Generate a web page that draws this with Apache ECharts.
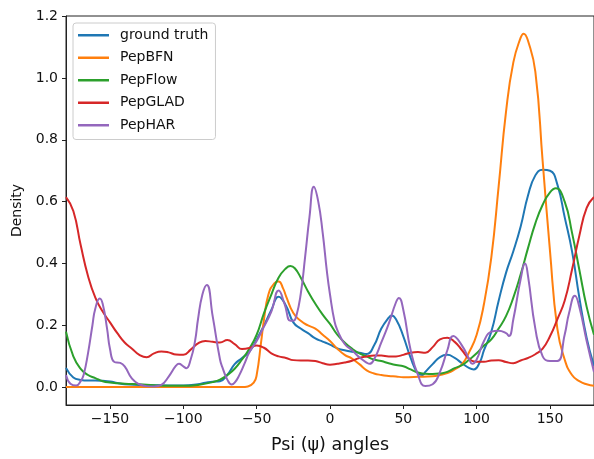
<!DOCTYPE html>
<html><head><meta charset="utf-8">
<script src="https://cdn.jsdelivr.net/npm/echarts@6/dist/echarts.min.js"></script>
<style>html,body{margin:0;padding:0;background:#fff}#c{width:594px;height:459px}</style>
</head><body><div id="c"></div>
<script>
const seriesNames = ['ground truth','PepBFN','PepFlow','PepGLAD','PepHAR'];
const colors = ['#1f77b4','#ff7f0e','#2ca02c','#d62728','#9467bd'];
const xTicks = [-150,-100,-50,0,50,100,150];
const yTicks = [0,0.2,0.4,0.6,0.8,1.0,1.2];

const groundTruth = [[-180,0.063],[-175,0.032],[-170,0.024],[-165,0.022],[-160,0.022],[-155,0.021],[-150,0.019],[-145,0.014],[-140,0.01],[-130,0.008],[-120,0.007],[-110,0.006],[-100,0.006],[-90,0.01],[-85,0.015],[-80,0.018],[-75,0.02],[-70,0.04],[-65,0.075],[-60,0.095],[-55,0.115],[-50,0.155],[-45,0.2],[-40,0.25],[-35,0.293],[-30,0.264],[-25,0.21],[-20,0.19],[-15,0.175],[-10,0.158],[-5,0.148],[0,0.138],[5,0.126],[10,0.12],[15,0.115],[20,0.112],[25,0.108],[30,0.135],[35,0.19],[40,0.225],[42,0.232],[45,0.22],[50,0.165],[55,0.095],[60,0.045],[63,0.04],[65,0.05],[70,0.075],[75,0.098],[80,0.105],[85,0.095],[90,0.078],[95,0.062],[98,0.058],[102,0.08],[105,0.12],[110,0.18],[115,0.28],[120,0.37],[125,0.44],[130,0.52],[135,0.62],[140,0.685],[145,0.703],[150,0.7],[155,0.656],[160,0.55],[165,0.44],[170,0.29],[175,0.16],[180,0.07]];
const pepBFN = [[-180,0.001],[-150,0.001],[-100,0.001],[-60,0.001],[-56,0.003],[-52,0.015],[-50,0.04],[-47,0.145],[-45,0.22],[-42,0.3],[-38,0.336],[-35,0.342],[-32,0.32],[-30,0.295],[-25,0.24],[-20,0.215],[-15,0.2],[-10,0.19],[-5,0.17],[0,0.15],[5,0.125],[10,0.105],[15,0.093],[20,0.075],[25,0.055],[30,0.045],[35,0.04],[40,0.037],[45,0.035],[50,0.033],[60,0.034],[70,0.036],[75,0.04],[80,0.046],[85,0.058],[90,0.075],[95,0.115],[100,0.17],[105,0.27],[110,0.42],[115,0.65],[120,0.89],[125,1.05],[130,1.13],[132,1.143],[135,1.12],[140,1.02],[145,0.73],[150,0.44],[155,0.19],[160,0.09],[165,0.04],[170,0.02],[175,0.01],[180,0.005]];
const pepFlow = [[-180,0.18],[-175,0.1],[-170,0.06],[-165,0.04],[-160,0.03],[-155,0.02],[-150,0.016],[-140,0.012],[-130,0.01],[-120,0.007],[-110,0.005],[-100,0.005],[-90,0.008],[-80,0.017],[-75,0.025],[-70,0.04],[-65,0.06],[-60,0.09],[-55,0.125],[-50,0.17],[-45,0.24],[-40,0.3],[-35,0.355],[-30,0.385],[-27,0.392],[-24,0.385],[-20,0.355],[-15,0.31],[-10,0.27],[-5,0.235],[0,0.205],[5,0.17],[10,0.145],[15,0.125],[20,0.11],[25,0.1],[30,0.09],[35,0.085],[40,0.078],[45,0.072],[50,0.068],[55,0.058],[60,0.048],[65,0.044],[70,0.043],[75,0.045],[80,0.05],[85,0.062],[90,0.072],[95,0.09],[100,0.11],[105,0.135],[110,0.155],[115,0.19],[120,0.23],[125,0.29],[130,0.365],[135,0.45],[140,0.53],[145,0.59],[150,0.63],[154,0.643],[160,0.6],[165,0.5],[170,0.38],[175,0.26],[180,0.17]];
const pepGLAD = [[-180,0.615],[-175,0.57],[-170,0.46],[-165,0.36],[-160,0.29],[-155,0.245],[-150,0.21],[-145,0.175],[-140,0.145],[-135,0.125],[-130,0.105],[-125,0.097],[-120,0.11],[-115,0.116],[-110,0.113],[-105,0.106],[-100,0.105],[-95,0.122],[-90,0.142],[-85,0.15],[-80,0.147],[-75,0.145],[-70,0.153],[-65,0.14],[-60,0.124],[-55,0.127],[-50,0.135],[-45,0.128],[-40,0.11],[-35,0.1],[-30,0.095],[-25,0.088],[-20,0.087],[-15,0.087],[-10,0.085],[-5,0.078],[0,0.073],[5,0.076],[10,0.08],[15,0.086],[20,0.095],[25,0.1],[30,0.103],[35,0.103],[40,0.1],[45,0.1],[50,0.105],[55,0.112],[60,0.114],[65,0.112],[70,0.13],[75,0.155],[80,0.16],[85,0.147],[90,0.12],[95,0.092],[100,0.083],[105,0.083],[110,0.087],[115,0.088],[120,0.082],[125,0.078],[130,0.087],[135,0.095],[140,0.107],[145,0.125],[150,0.165],[155,0.22],[160,0.28],[165,0.38],[170,0.49],[175,0.58],[180,0.615]];
const pepHAR = [[-180,0.04],[-177,0.012],[-173,0.006],[-170,0.02],[-168,0.04],[-165,0.11],[-162,0.2],[-160,0.255],[-157,0.287],[-155,0.27],[-152,0.19],[-150,0.124],[-147,0.082],[-143,0.079],[-140,0.068],[-135,0.028],[-130,0.01],[-125,0.004],[-120,0.003],[-115,0.008],[-110,0.035],[-105,0.07],[-103,0.076],[-100,0.068],[-98,0.062],[-95,0.09],[-92,0.15],[-90,0.22],[-87,0.3],[-84,0.331],[-80,0.23],[-75,0.09],[-73,0.06],[-70,0.025],[-67,0.009],[-65,0.015],[-62,0.038],[-58,0.08],[-55,0.113],[-50,0.15],[-46,0.187],[-40,0.245],[-35,0.313],[-31,0.27],[-27,0.215],[-25,0.215],[-23,0.23],[-20,0.3],[-17,0.42],[-14,0.55],[-11,0.648],[-8,0.6],[-5,0.5],[-2,0.37],[0,0.3],[3,0.215],[5,0.185],[10,0.14],[15,0.12],[20,0.097],[25,0.08],[27,0.076],[30,0.09],[35,0.145],[40,0.205],[45,0.275],[47,0.289],[50,0.25],[55,0.12],[60,0.04],[65,0.004],[70,0.01],[75,0.05],[80,0.12],[84,0.166],[90,0.135],[95,0.09],[97,0.076],[100,0.09],[105,0.15],[110,0.18],[115,0.183],[120,0.175],[122,0.166],[125,0.22],[130,0.35],[133,0.4],[135,0.36],[140,0.19],[145,0.1],[150,0.085],[155,0.085],[160,0.17],[163,0.24],[167,0.296],[170,0.26],[175,0.15],[180,0.05]];

const allData = [groundTruth, pepBFN, pepFlow, pepGLAD, pepHAR];
const font = 'DejaVu Sans';
const chart = echarts.init(document.getElementById('c'), null, {renderer:'canvas'});
chart.setOption({
  animation: false,
  color: colors,
  textStyle: {fontFamily: font},
  grid: {left: 66, right: -1, top: 16, bottom: 49, show: true, borderColor: '#222', borderWidth: 1, backgroundColor: 'transparent'},
  legend: {
    orient: 'vertical', left: 73, top: 23,
    data: seriesNames,
    icon: 'rect', itemWidth: 31, itemHeight: 2.5, itemGap: 6,
    padding: [4, 7, 6, 5],
    backgroundColor: 'rgba(255,255,255,0.8)', borderColor: '#cccccc', borderWidth: 1, borderRadius: 3,
    textStyle: {fontFamily: font, fontSize: 14, color: '#111', lineHeight: 16.5, padding: [0,0,0,6]}
  },
  xAxis: {
    type: 'value', min: -180, max: 180,
    name: 'Psi (\u03c8) angles', nameLocation: 'middle', nameGap: 31,
    nameTextStyle: {fontFamily: font, fontSize: 17.5, color: '#111'},
    axisLine: {show: true, onZero: false, lineStyle: {color: '#222', width: 1}},
    axisTick: {show: true, inside: false, length: 4, lineStyle: {color: '#222'}, customValues: xTicks},
    axisLabel: {margin: 7, fontSize: 14, color: '#111', fontFamily: font, customValues: xTicks,
      formatter: v => String(v).replace('-', '\u2212')},
    splitLine: {show: false}
  },
  yAxis: {
    type: 'value', min: -0.057, max: 1.2,
    name: 'Density', nameLocation: 'middle', nameGap: 42, nameRotate: 90,
    nameTextStyle: {fontFamily: font, fontSize: 14, color: '#111'},
    axisLine: {show: true, onZero: false, lineStyle: {color: '#222', width: 1}},
    axisTick: {show: true, inside: false, length: 4, lineStyle: {color: '#222'}, customValues: yTicks},
    axisLabel: {margin: 8, fontSize: 14, color: '#111', fontFamily: font, customValues: yTicks,
      formatter: v => v.toFixed(1)},
    splitLine: {show: false}
  },
  series: allData.map((d, i) => ({
    name: seriesNames[i], type: 'line', data: d,
    smooth: 0.5, showSymbol: false, symbol: 'none',
    lineStyle: {width: 2, color: colors[i]}, z: 2 + i
  }))
});
</script></body></html>
